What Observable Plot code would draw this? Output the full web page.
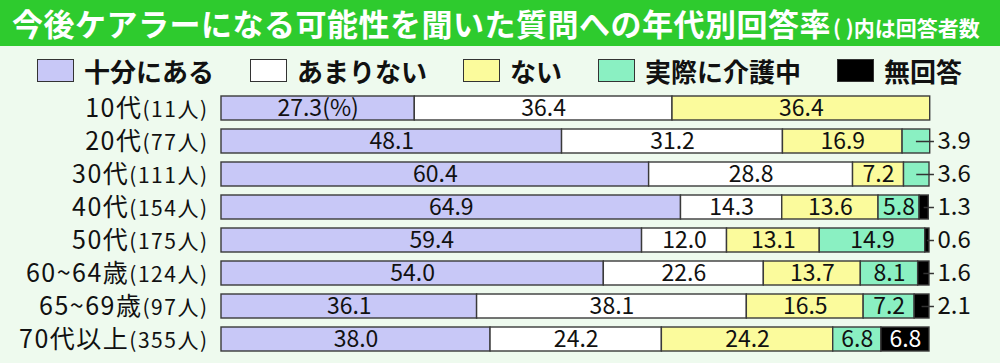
<!DOCTYPE html>
<html><head><meta charset="utf-8">
<script src="https://cdn.jsdelivr.net/npm/d3@7"></script>
<script src="https://cdn.jsdelivr.net/npm/@observablehq/plot@0.6"></script>
<style>
body{margin:0;background:#eefaee;font-family:"Noto Sans CJK JP",sans-serif;width:1000px;height:363px;overflow:hidden}
#title{height:46px;background:#2ecb2e;color:#fff;font-weight:bold;font-size:31px;line-height:46px;padding-left:12px;white-space:nowrap;letter-spacing:0.5px;box-sizing:border-box}
#title span{font-size:21px;letter-spacing:0;margin-left:2px}
#legend{position:relative;height:40px}
.item{position:absolute;top:13px;height:23px;display:flex;align-items:center}
.sw{width:37px;height:23px;border:1.5px solid #333;box-sizing:border-box;margin-right:10px}
.lab{font-size:26px;font-weight:bold;color:#111;line-height:23px}
#chart svg{display:block}
</style>
</head><body>
<div id="title">今後ケアラーになる可能性を聞いた質問への年代別回答率<span>( )内は回答者数</span></div>
<div id="legend"></div>
<div id="chart"></div>
<script>
// ---- data ----
const ages = ["10代", "20代", "30代", "40代", "50代", "60~64歳", "65~69歳", "70代以上"];
const counts = [11, 77, 111, 154, 175, 124, 97, 355];
const categories = ["十分にある", "あまりない", "ない", "実際に介護中", "無回答"];
const colors = ["#c8c8f7", "#ffffff", "#fbfb9c", "#8af0c2", "#000000"];
const juubun   = [27.3, 48.1, 60.4, 64.9, 59.4, 54.0, 36.1, 38.0];
const amari    = [36.4, 31.2, 28.8, 14.3, 12.0, 22.6, 38.1, 24.2];
const nai      = [36.4, 16.9, 7.2, 13.6, 13.1, 13.7, 16.5, 24.2];
const kaigo    = [0, 3.9, 3.6, 5.8, 14.9, 8.1, 7.2, 6.8];
const mukaitou = [0, 0, 0, 1.3, 0.6, 1.6, 2.1, 6.8];
const series = [juubun, amari, nai, kaigo, mukaitou];

// ---- legend ----
const legendX = [37, 250, 463, 598, 837];
const legend = document.getElementById("legend");
categories.forEach((c, i) => {
  const it = document.createElement("div");
  it.className = "item";
  it.style.left = legendX[i] + "px";
  it.innerHTML = `<div class="sw" style="background:${colors[i]}"></div><div class="lab">${c}</div>`;
  legend.appendChild(it);
});

// ---- table ----
const labels = ages.map((a, i) => `${a}(${counts[i]}人)`);
const segs = [];
labels.forEach((lab, r) => {
  let acc = 0;
  series.forEach((s, k) => {
    const v = s[r];
    if (v > 0) {
      segs.push({age: lab, cat: categories[k], value: v, x1: acc, x2: acc + v, mid: acc + v / 2,
                 text: v.toFixed(1) + (r === 0 && k === 0 ? "(%)" : "")});
    }
    acc += v;
  });
});
const inside = segs.filter(d => d.value >= 5);
const outside = segs.filter(d => d.value < 5);
const outX = 100.7;

const chart = Plot.plot({
  width: 1000, height: 277,
  marginLeft: 221, marginRight: 71, marginTop: 1, marginBottom: 3,
  style: {background: "transparent", fontFamily: "'Noto Sans CJK JP', sans-serif", color: "#111"},
  x: {domain: [0, 100], axis: null},
  y: {domain: labels, padding: 0.26, axis: null},
  color: {domain: categories, range: colors},
  marks: [
    Plot.axisY({tickSize: 0, tickPadding: 13, fontSize: 25, label: null}),
    Plot.barX(segs, {x1: "x1", x2: "x2", y: "age", fill: "cat", stroke: "#3a3a3a", strokeWidth: 1.4}),
    Plot.text(inside, {x: "mid", y: "age", text: "text", fontSize: 23,
      fill: d => d.cat === "無回答" ? "#ffffff" : "#111111"}),
    Plot.ruleY(outside, {y: "age", x1: "mid", x2: () => outX, stroke: "#333", strokeWidth: 1.5}),
    Plot.text(outside, {x: () => outX, y: "age", text: "text", dx: 3, textAnchor: "start", fontSize: 24, fill: "#111"})
  ]
});
document.getElementById("chart").appendChild(chart);

// split y tick labels into large main part and smaller count part
d3.select(chart).selectAll('g[aria-label="y-axis tick label"] text').each(function() {
  const t = d3.select(this);
  const s = t.text();
  const i = s.indexOf("(");
  t.text(null).attr("letter-spacing", 1.5);
  t.append("tspan").text(s.slice(0, i));
  t.append("tspan").attr("font-size", 21).text(s.slice(i));
});
</script>
</body></html>
